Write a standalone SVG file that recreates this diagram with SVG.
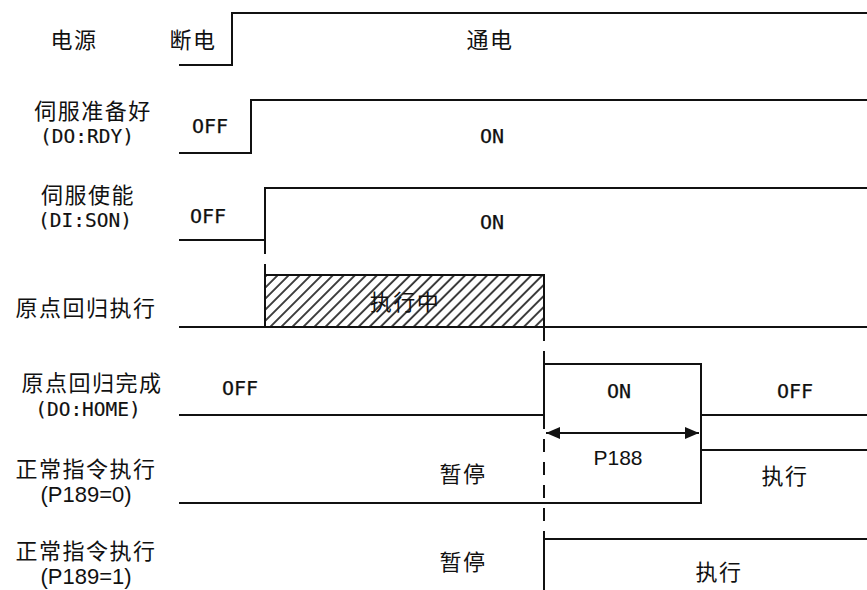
<svg xmlns="http://www.w3.org/2000/svg" width="867" height="590" viewBox="0 0 867 590">
<style>
.w{fill:none;stroke:#111;stroke-width:2}
.d{fill:none;stroke:#111;stroke-width:2;stroke-dasharray:13 10}
.cj{font-family:"Noto Sans CJK SC","Noto Sans CJK JP",sans-serif;font-size:22px;fill:#111;text-anchor:middle;letter-spacing:1.5px}
.mo{font-family:"DejaVu Sans Mono","Liberation Mono",monospace;font-size:20px;fill:#111;stroke:#111;stroke-width:0.25;text-anchor:middle}
.sm{font-family:"DejaVu Sans Mono","Liberation Mono",monospace;font-size:19.5px;fill:#111;stroke:#111;stroke-width:0.15;text-anchor:middle}
.ls{font-family:"Liberation Sans",Arial,sans-serif;font-size:22px;fill:#111;text-anchor:middle}
</style>
<defs>
<pattern id="hatch" width="7.8" height="7.8" patternUnits="userSpaceOnUse" patternTransform="rotate(45)">
<line x1="1" y1="0" x2="1" y2="7.8" stroke="#111" stroke-width="1.6"/>
</pattern>
<marker id="ah" viewBox="0 0 14 12" refX="14" refY="6" markerWidth="14" markerHeight="12" markerUnits="userSpaceOnUse" orient="auto-start-reverse">
<path d="M0,0 L14,6 L0,12 Z" fill="#111"/>
</marker>
</defs>

<g id="labels">
<text class="cj" x="74" y="48">电源</text>
<text class="cj" x="93" y="119">伺服准备好</text>
<text class="sm" x="87" y="143">(DO:RDY)</text>
<text class="cj" x="88" y="203">伺服使能</text>
<text class="sm" x="85" y="227">(DI:SON)</text>
<text class="cj" x="86" y="316">原点回归执行</text>
<text class="cj" x="92" y="391">原点回归完成</text>
<text class="sm" x="88" y="416">(DO:HOME)</text>
<text class="cj" x="86" y="477">正常指令执行</text>
<text class="ls" x="86" y="502">(P189=0)</text>
<text class="cj" x="86" y="559">正常指令执行</text>
<text class="ls" x="86" y="584">(P189=1)</text>
</g>

<g id="power">
<polyline class="w" points="179,65 232,65 232,13 867,13"/>
<text class="cj" x="193" y="48">断电</text>
<text class="cj" x="490" y="48">通电</text>
</g>

<g id="rdy">
<polyline class="w" points="179,153 251,153 251,100 867,100"/>
<text class="mo" x="210" y="133">OFF</text>
<text class="mo" x="492" y="143">ON</text>
</g>

<g id="son">
<polyline class="w" points="179,240 265,240 265,188 867,188"/>
<text class="mo" x="208" y="223">OFF</text>
<text class="mo" x="492" y="229">ON</text>
</g>

<g id="homing">
<line class="w" x1="179" y1="327" x2="867" y2="327"/>
<rect x="265" y="275" width="279" height="52" fill="url(#hatch)" stroke="#111" stroke-width="2"/>
<text class="cj" x="405" y="310">执行中</text>
</g>

<g id="home">
<polyline class="w" points="179,415 544,415 544,364 701,364 701,415 867,415"/>
<text class="mo" x="240" y="395">OFF</text>
<text class="mo" x="619" y="398">ON</text>
<text class="mo" x="795" y="398">OFF</text>
</g>

<g id="p189-0">
<polyline class="w" points="179,503 701,503 701,450 867,450"/>
<line class="w" x1="701" y1="415" x2="701" y2="450"/>
<text class="cj" x="463" y="482">暂停</text>
<text class="cj" x="785" y="484">执行</text>
</g>

<g id="p189-1">
<polyline class="w" points="544,590 544,539 867,539"/>
<text class="cj" x="463" y="570">暂停</text>
<text class="cj" x="719" y="580">执行</text>
</g>

<g id="connectors">
<line class="d" x1="265" y1="241" x2="265" y2="275"/>
<line class="d" x1="544" y1="328" x2="544" y2="364"/>
<line class="d" x1="544" y1="416" x2="544" y2="539"/>
<line class="w" x1="546" y1="433" x2="699" y2="433" marker-start="url(#ah)" marker-end="url(#ah)"/>
<text class="ls" x="618" y="465" style="font-size:21px">P188</text>
</g>
</svg>
